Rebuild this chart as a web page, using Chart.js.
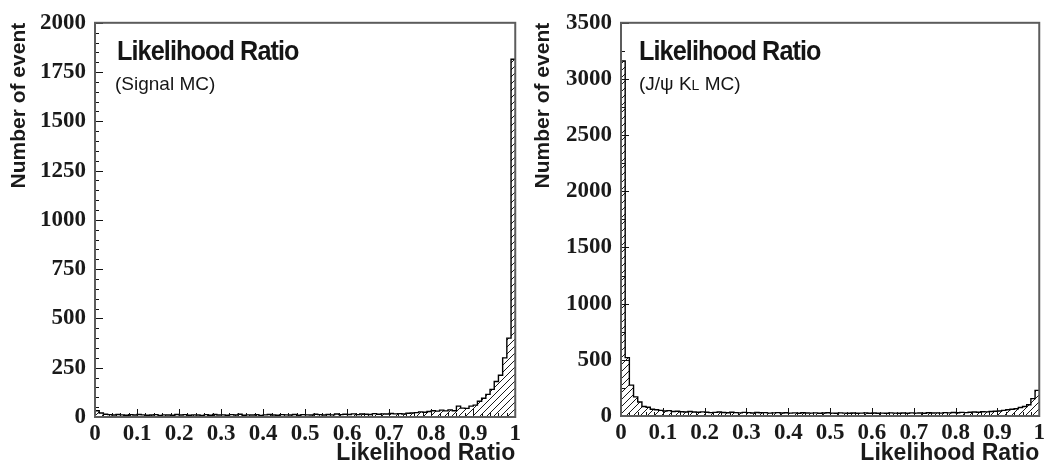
<!DOCTYPE html>
<html>
<head>
<meta charset="utf-8">
<script src="https://cdn.jsdelivr.net/npm/chart.js@4.4.0/dist/chart.umd.min.js"></script>
<style>
  html, body { margin: 0; padding: 0; background: #fff; }
  #wrap { position: relative; width: 1048px; height: 468px; }
  .panel { position: absolute; top: 0; width: 524px; height: 468px; }
</style>
</head>
<body>
<div id="wrap">
  <div class="panel" style="left:0"><canvas id="sigChart" width="524" height="468"></canvas></div>
  <div class="panel" style="left:524px"><canvas id="bkgChart" width="524" height="468"></canvas></div>
</div>
<script>
// Histogram: 100 bins from 0 to 1
const binWidth = 0.01;

// Signal MC counts per bin
const signalCounts = [
  32, 20, 14, 12, 10, 13, 11, 9, 12, 10,
  13, 11, 9, 10, 12, 8, 11, 10, 9, 13,
  10, 12, 9, 11, 10, 8, 12, 9, 13, 10,
  11, 9, 12, 10, 14, 9, 11, 10, 12, 8,
  11, 13, 10, 9, 12, 11, 10, 13, 9, 12,
  11, 10, 14, 12, 10, 13, 11, 15, 12, 14,
  13, 16, 12, 15, 14, 13, 17, 14, 16, 15,
  18, 16, 17, 15, 19, 20, 22, 26, 24, 28,
  32, 30, 35, 31, 36, 32, 55, 45, 44, 55,
  60, 80, 95, 115, 140, 180, 212, 300, 400, 1815
];

// J/psi KL MC counts per bin
const bkgCounts = [
  3160, 520, 275, 170, 125, 85, 78, 60, 55, 50,
  45, 48, 40, 42, 38, 36, 40, 35, 33, 37,
  34, 30, 32, 35, 31, 29, 33, 30, 28, 32,
  30, 27, 31, 29, 30, 26, 28, 30, 27, 29,
  26, 28, 25, 29, 27, 26, 28, 25, 27, 29,
  26, 24, 28, 26, 25, 27, 24, 26, 28, 25,
  27, 24, 26, 25, 28, 26, 24, 27, 25, 28,
  26, 27, 25, 29, 27, 28, 26, 30, 28, 31,
  29, 32, 30, 33, 35, 34, 38, 37, 40, 42,
  45, 50, 55, 60, 65, 75, 85, 100, 155, 228
];

const xTitle = 'Likelihood Ratio';
const yTitle = 'Number of event';
const panelTitle = 'Likelihood Ratio';

// step-histogram points: low edge of each bin, plus closing edge at 1
const toSteps = counts => {
  const pts = counts.map((c, i) => ({ x: i * binWidth, y: c }));
  pts.push({ x: counts.length * binWidth, y: counts[counts.length - 1] });
  return pts;
};

const makeHatch = (ctx, size) => {
  const c = document.createElement('canvas');
  c.width = c.height = size;
  const g = c.getContext('2d');
  g.strokeStyle = '#1a1a1a';
  g.lineWidth = 1;
  g.beginPath();
  g.moveTo(0, size); g.lineTo(size, 0);
  g.moveTo(-1, 1); g.lineTo(1, -1);
  g.moveTo(size - 1, size + 1); g.lineTo(size + 1, size - 1);
  g.stroke();
  return ctx.createPattern(c, 'repeat');
};

// frame, inward ticks and the text box in the top-left corner
const rootFrame = {
  id: 'rootFrame',
  afterDraw(chart, args, opts) {
    const { ctx, chartArea: a, scales: { x, y } } = chart;
    ctx.save();
    ctx.strokeStyle = '#111';
    ctx.lineWidth = 1;
    ctx.beginPath();
    // x ticks (major 0.1, minor 0.02)
    for (let i = 0; i <= 50; i++) {
      const v = x.min + i * (x.max - x.min) / 50;
      const px = Math.round(x.getPixelForValue(v)) + 0.5;
      const len = i % 5 === 0 ? 8 : 4;
      ctx.moveTo(px, a.bottom); ctx.lineTo(px, a.bottom - len);
    }
    // y ticks
    const nMinor = opts.yMinor;
    for (let v = y.min; v <= y.max + 1e-6; v += opts.yStep / nMinor) {
      const py = Math.round(y.getPixelForValue(v)) + 0.5;
      const major = Math.abs(v / opts.yStep - Math.round(v / opts.yStep)) < 1e-6;
      ctx.moveTo(a.left, py); ctx.lineTo(a.left + (major ? 8 : 4), py);
    }
    ctx.stroke();

    ctx.strokeStyle = '#5c5c5c';
    ctx.lineWidth = 2;
    ctx.strokeRect(a.left, a.top, a.right - a.left, a.bottom - a.top);

    // title
    ctx.fillStyle = '#151515';
    ctx.textBaseline = 'alphabetic';
    ctx.textAlign = 'left';
    ctx.save();
    ctx.translate(a.left + opts.titleDx, a.top + 37);
    ctx.scale(0.9, 1);
    ctx.font = 'bold 28px "Liberation Sans", Arial, sans-serif';
    ctx.letterSpacing = '-1px';
    ctx.fillText(panelTitle, 0, 0);
    ctx.restore();

    let tx = a.left + opts.subDx;
    for (const part of opts.sub) {
      ctx.font = part.size + 'px "Liberation Sans", Arial, sans-serif';
      ctx.fillText(part.text, tx, a.top + 67);
      tx += ctx.measureText(part.text).width;
    }
    ctx.restore();
  }
};

const buildChart = (id, counts, yMax, yStep, yMinor, area, opts) => {
  const canvas = document.getElementById(id);
  const ctx = canvas.getContext('2d');
  return new Chart(ctx, {
    type: 'line',
    data: {
      datasets: [{
        data: toSteps(counts),
        stepped: 'before',
        borderColor: '#000',
        borderWidth: 1.4,
        backgroundColor: makeHatch(ctx, 7),
        fill: 'origin',
        pointRadius: 0,
        tension: 0
      }]
    },
    options: {
      responsive: false,
      animation: false,
      events: [],
      layout: { padding: { left: 0, top: area.top, right: canvas.width - area.right, bottom: 0 } },
      plugins: {
        legend: { display: false },
        tooltip: { enabled: false },
        rootFrame: Object.assign({ yStep, yMinor }, opts)
      },
      scales: {
        x: {
          type: 'linear',
          min: 0,
          max: 1,
          grid: { display: false, drawTicks: false },
          border: { display: false },
          afterFit: s => { s.height = canvas.height - area.bottom; },
          ticks: {
            stepSize: 0.1,
            autoSkip: false,
            maxRotation: 0,
            padding: 3,
            color: '#1a1a1a',
            font: { family: '"Liberation Serif", "Times New Roman", serif', size: 23, weight: 'bold' },
            callback: v => String(Math.round(v * 10) / 10)
          },
          title: {
            display: true,
            text: xTitle,
            align: 'end',
            color: '#1a1a1a',
            padding: { top: 0, bottom: 1 },
            font: { family: '"Liberation Sans", Arial, sans-serif', size: 23, weight: 'bold' }
          }
        },
        y: {
          min: 0,
          max: yMax,
          grid: { display: false, drawTicks: false },
          border: { display: false },
          afterFit: s => { s.width = area.left; },
          ticks: {
            stepSize: yStep,
            autoSkip: false,
            padding: 9,
            color: '#1a1a1a',
            font: { family: '"Liberation Serif", "Times New Roman", serif', size: 23, weight: 'bold' },
            callback: v => String(v)
          },
          title: {
            display: true,
            text: yTitle,
            align: 'end',
            color: '#1a1a1a',
            padding: { top: 7, bottom: 0 },
            font: { family: '"Liberation Sans", Arial, sans-serif', size: 21, weight: 'bold' }
          }
        }
      }
    },
    plugins: [rootFrame]
  });
};

buildChart('sigChart', signalCounts, 2000, 250, 5,
  { left: 95, top: 21, right: 517, bottom: 417 },
  { titleDx: 22, subDx: 20, sub: [{ text: '(Signal MC)', size: 19 }] });

buildChart('bkgChart', bkgCounts, 3500, 500, 2,
  { left: 97, top: 20, right: 519, bottom: 416 },
  { titleDx: 18, subDx: 18, sub: [
    { text: '(J/\u03C8 K', size: 19 },
    { text: 'L', size: 14 },
    { text: ' MC)', size: 19 }
  ] });
</script>
</body>
</html>
